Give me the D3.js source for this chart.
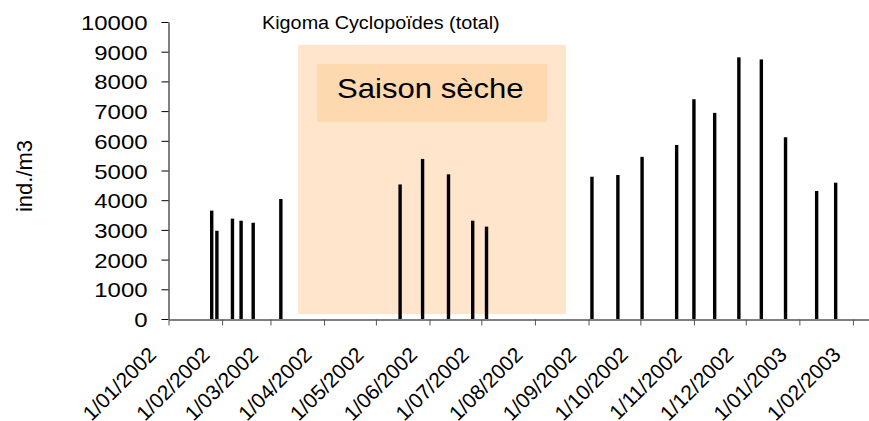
<!DOCTYPE html>
<html>
<head>
<meta charset="utf-8">
<script src="https://cdn.jsdelivr.net/npm/d3@7"></script>
<style>
  body { margin: 0; background: #fff; }
  svg { display: block; font-family: "Liberation Sans", Arial, sans-serif; }
</style>
</head>
<body>
<div id="chart"></div>
<script>
// sampling dates and counts
var sampleDates = ["2002-01-26", "2002-01-29", "2002-02-07", "2002-02-12", "2002-02-19", "2002-03-07",
  "2002-05-15", "2002-05-28", "2002-06-12", "2002-06-26", "2002-07-04",
  "2002-09-03", "2002-09-18", "2002-10-02", "2002-10-22", "2002-11-01", "2002-11-13",
  "2002-11-27", "2002-12-10", "2002-12-24", "2003-01-11", "2003-01-22"];
var counts = [3650, 2970, 3380, 3310, 3240, 4040,
  4530, 5390, 4870, 3310, 3110,
  4790, 4850, 5460, 5860, 7400, 6940,
  8810, 8740, 6120, 4310, 4590];

var xTickLabels = ["1/01/2002", "1/02/2002", "1/03/2002", "1/04/2002", "1/05/2002", "1/06/2002", "1/07/2002",
  "1/08/2002", "1/09/2002", "1/10/2002", "1/11/2002", "1/12/2002", "1/01/2003", "1/02/2003"];
var yTicks = [0, 1000, 2000, 3000, 4000, 5000, 6000, 7000, 8000, 9000, 10000];

var chartTitle = "Kigoma Cyclopoïdes (total)";
var yLabel = "ind./m3";
var seasonLabel = "Saison sèche";
var seasonStart = "2002-03-17", seasonEnd = "2002-08-19";

var width = 869, height = 421;
var parseDate = d3.utcParse("%Y-%m-%d");
var parseTick = d3.utcParse("%d/%m/%Y");

var svg = d3.select("#chart").append("svg")
  .attr("width", width)
  .attr("height", height);

var x = d3.scaleUtc()
  .domain([parseDate("2002-01-01"), parseDate("2003-02-10")])
  .range([168.5, 868.5]);

var y = d3.scaleLinear()
  .domain([0, 10000])
  .range([319, 22]);

// stretch text a bit wider, the original is rendered wide
function stretch(sel, k) {
  sel.each(function() {
    var w = this.getComputedTextLength();
    d3.select(this).attr("textLength", w * k).attr("lengthAdjust", "spacingAndGlyphs");
  });
}

// dry season box (behind the bars)
svg.append("rect")
  .attr("x", x(parseDate(seasonStart)))
  .attr("y", y(9230))
  .attr("width", x(parseDate(seasonEnd)) - x(parseDate(seasonStart)))
  .attr("height", y(170) - y(9230))
  .style("fill", "#fee5cc");

svg.append("rect")
  .attr("x", x(parseDate("2002-03-28")))
  .attr("y", y(8590))
  .attr("width", x(parseDate("2002-08-08")) - x(parseDate("2002-03-28")))
  .attr("height", y(6640) - y(8590))
  .style("fill", "#fed8ae");

svg.append("text")
  .attr("x", 337)
  .attr("y", 97.5)
  .attr("font-size", "28px")
  .style("fill", "#000")
  .text(seasonLabel)
  .call(stretch, 1.11);

// bars
svg.selectAll("rect.bar")
  .data(counts)
  .enter()
  .append("rect")
  .attr("class", "bar")
  .attr("x", (d, i) => x(parseDate(sampleDates[i])) - 1.7)
  .attr("y", d => y(d))
  .attr("width", 3.4)
  .attr("height", d => y(0) - y(d))
  .style("fill", "#000");

// y axis
var yAxis = svg.append("g")
  .attr("transform", "translate(168.5,0)")
  .call(d3.axisLeft(y).tickValues(yTicks).tickFormat(d3.format("d"))
    .tickSize(7).tickSizeOuter(0).tickPadding(14));
yAxis.select(".domain").attr("stroke", "#000");
yAxis.selectAll(".tick line").attr("stroke", "#000");
yAxis.selectAll(".tick text")
  .attr("font-size", "21px")
  .attr("font-family", "Liberation Sans, Arial, sans-serif")
  .attr("fill", "#000")
  .attr("dy", "0.36em")
  .call(stretch, 1.14);

// x axis
var tickDates = xTickLabels.map(parseTick);
var xAxis = svg.append("g")
  .attr("transform", "translate(0,319.5)")
  .call(d3.axisBottom(x).tickValues(tickDates).tickSize(6).tickSizeOuter(0).tickFormat(""));
xAxis.select(".domain").attr("stroke", "#000");
xAxis.selectAll(".tick line").attr("stroke", "#555");

svg.selectAll("text.xlab")
  .data(xTickLabels)
  .enter()
  .append("text")
  .attr("class", "xlab")
  .attr("text-anchor", "end")
  .attr("font-size", "21px")
  .attr("transform", (d, i) => "translate(" + (x(tickDates[i]) - 11) + ",356) rotate(-45)")
  .style("fill", "#000")
  .text(d => d);

// title and axis label
svg.append("text")
  .attr("x", 262)
  .attr("y", 29)
  .attr("font-size", "18px")
  .style("fill", "#000")
  .text(chartTitle)
  .call(stretch, 1.1);

svg.append("text")
  .attr("transform", "translate(32,176) rotate(-90)")
  .attr("text-anchor", "middle")
  .attr("font-size", "22px")
  .style("fill", "#000")
  .text(yLabel);
</script>
</body>
</html>
